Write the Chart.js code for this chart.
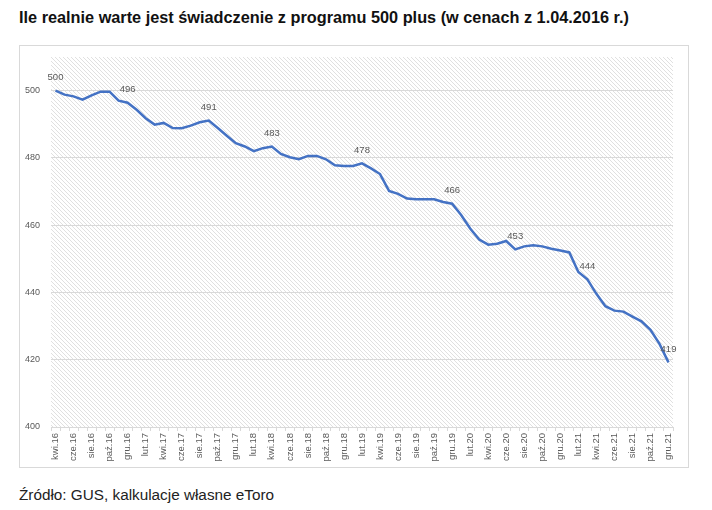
<!DOCTYPE html>
<html lang="pl">
<head>
<meta charset="utf-8">
<script src="https://cdn.jsdelivr.net/npm/chart.js@4"></script>
<style>
    body { margin: 0; background: #fff; font-family: "Liberation Sans", Arial, sans-serif; }
    #page { position: relative; width: 712px; height: 510px; overflow: hidden; }
    #title { position: absolute; left: 19px; top: 8px; font-size: 16.3px; font-weight: bold; color: #111; white-space: nowrap; }
    #box { position: absolute; left: 19px; top: 45px; width: 668px; height: 421px; border: 1px solid #d9d9d9; }
    #box canvas { position: absolute; left: 0; top: 0; }
    #source { position: absolute; left: 19px; top: 486px; font-size: 15.3px; color: #222; white-space: nowrap; }
</style>
</head>
<body>
<div id="page">
    <div id="title">Ile realnie warte jest świadczenie z programu 500 plus (w cenach z 1.04.2016 r.)</div>
    <div id="box"><canvas id="lineChart" width="668" height="421"></canvas></div>
    <div id="source">Źródło: GUS, kalkulacje własne eToro</div>
</div>
<script>
// Months kwi.16 .. gru.21
var months = [
    'kwi.16', 'maj.16', 'cze.16', 'lip.16', 'sie.16', 'wrz.16', 'paź.16', 'lis.16', 'gru.16',
    'sty.17', 'lut.17', 'mar.17', 'kwi.17', 'maj.17', 'cze.17', 'lip.17', 'sie.17', 'wrz.17', 'paź.17', 'lis.17', 'gru.17',
    'sty.18', 'lut.18', 'mar.18', 'kwi.18', 'maj.18', 'cze.18', 'lip.18', 'sie.18', 'wrz.18', 'paź.18', 'lis.18', 'gru.18',
    'sty.19', 'lut.19', 'mar.19', 'kwi.19', 'maj.19', 'cze.19', 'lip.19', 'sie.19', 'wrz.19', 'paź.19', 'lis.19', 'gru.19',
    'sty.20', 'lut.20', 'mar.20', 'kwi.20', 'maj.20', 'cze.20', 'lip.20', 'sie.20', 'wrz.20', 'paź.20', 'lis.20', 'gru.20',
    'sty.21', 'lut.21', 'mar.21', 'kwi.21', 'maj.21', 'cze.21', 'lip.21', 'sie.21', 'wrz.21', 'paź.21', 'lis.21', 'gru.21'
];

// Real value of the 500 zł benefit
var realValue = [
    500.0, 498.8, 498.3, 497.3, 498.6, 499.7, 499.7, 497.0, 496.4,
    494.3, 491.8, 489.9, 490.4, 488.9, 488.8, 489.6, 490.6, 491.1, 488.9, 486.6, 484.4,
    483.4, 482.0, 482.9, 483.4, 481.2, 480.2, 479.6, 480.6, 480.6, 479.6, 477.8, 477.6,
    477.6, 478.4, 476.9, 475.2, 470.2, 469.3, 467.9, 467.7, 467.7, 467.7, 466.9, 466.4,
    463.0, 459.0, 455.7, 454.2, 454.5, 455.3, 452.8, 453.7, 454.0, 453.7, 453.0, 452.5,
    451.9, 446.1, 443.9, 439.6, 435.9, 434.6, 434.3, 432.8, 431.4, 428.9, 424.7, 419.2
];

// Points that carry a value label
var labelledPoints = [0, 8, 17, 24, 34, 44, 51, 59, 68];

var yTicks = [400, 420, 440, 460, 480, 500];

// hatched plot background
function makeHatch() {
    var c = document.createElement('canvas');
    c.width = 4; c.height = 4;
    var g = c.getContext('2d');
    g.fillStyle = '#ffffff';
    g.fillRect(0, 0, 4, 4);
    g.strokeStyle = '#e0e0e0';
    g.lineWidth = 1;
    g.beginPath();
    g.moveTo(-1, -1); g.lineTo(5, 5);
    g.moveTo(-1, 3); g.lineTo(1, 5);
    g.moveTo(3, -1); g.lineTo(5, 1);
    g.stroke();
    return g.createPattern(c, 'repeat');
}

var hatchPlugin = {
    id: 'hatch',
    beforeDraw: function (chart) {
        var a = chart.chartArea, ctx = chart.ctx;
        ctx.save();
        ctx.fillStyle = makeHatch();
        ctx.fillRect(a.left, a.top, a.right - a.left, a.bottom - a.top);
        ctx.restore();
    }
};

var valueLabels = {
    id: 'valueLabels',
    afterDatasetsDraw: function (chart) {
        var ctx = chart.ctx;
        var meta = chart.getDatasetMeta(0);
        ctx.save();
        ctx.font = '9.5px "Liberation Sans", Arial, sans-serif';
        ctx.fillStyle = '#595959';
        ctx.textAlign = 'center';
        ctx.textBaseline = 'middle';
        labelledPoints.forEach(function (i) {
            var p = meta.data[i];
            ctx.fillText(String(Math.round(realValue[i])), p.x, p.y - 13);
        });
        ctx.restore();
    }
};

var ctx = document.getElementById('lineChart').getContext('2d');
var lineChart = new Chart(ctx, {
    type: 'line',
    data: {
        labels: months,
        datasets: [{
            data: realValue,
            borderColor: '#4472c4',
            borderWidth: 2.5,
            pointRadius: 0,
            tension: 0,
            fill: false
        }]
    },
    options: {
        responsive: false,
        animation: false,
        layout: { padding: { top: 11, right: 15, left: 0, bottom: 0 } },
        plugins: {
            legend: { display: false },
            tooltip: { enabled: false }
        },
        scales: {
            x: {
                offset: true,
                afterFit: function (s) {
                    s.height = 40;
                    s.paddingLeft = 0; s.paddingRight = 0;
                },
                border: { display: true, color: '#d9d9d9' },
                grid: { drawOnChartArea: false, drawTicks: true, tickLength: 4, color: '#d9d9d9', offset: true },
                ticks: {
                    autoSkip: false,
                    minRotation: 90,
                    maxRotation: 90,
                    padding: 2,
                    color: '#595959',
                    font: { family: '"Liberation Sans", Arial, sans-serif', size: 9.5 },
                    callback: function (v, i) { return i % 2 === 0 ? months[i] : ''; }
                }
            },
            y: {
                min: 400,
                max: 510,
                afterFit: function (s) {
                    s.width = 31;
                    s.paddingTop = 0; s.paddingBottom = 0;
                },
                afterBuildTicks: function (s) { s.ticks = yTicks.map(function (v) { return { value: v }; }); },
                border: { display: false },
                grid: { color: '#d9d9d9', drawTicks: false },
                ticks: {
                    padding: 11,
                    color: '#595959',
                    font: { family: '"Liberation Sans", Arial, sans-serif', size: 9 }
                }
            }
        }
    },
    plugins: [hatchPlugin, valueLabels]
});
</script>
</body>
</html>
